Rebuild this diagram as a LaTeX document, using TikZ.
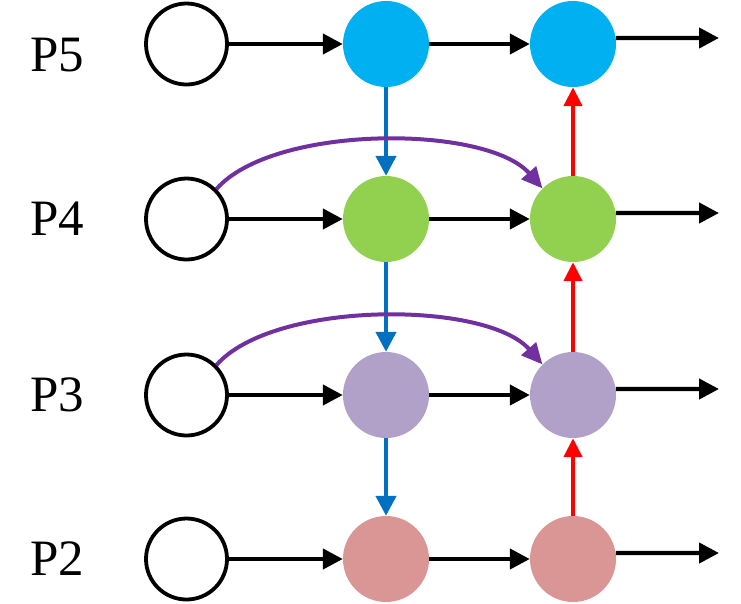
\documentclass[tikz,border=0pt]{standalone}
\usepackage{fontspec}
\setmainfont{Liberation Serif}
\usetikzlibrary{arrows.meta}
\definecolor{cblue}{HTML}{00B0F0}
\definecolor{cgreen}{HTML}{92D050}
\definecolor{clilac}{HTML}{B1A0C7}
\definecolor{cpink}{HTML}{D99694}
\definecolor{ablue}{HTML}{0070C0}
\definecolor{ared}{HTML}{FF0000}
\definecolor{apurple}{HTML}{7030A0}
\tikzset{
  emptynode/.style={circle,draw=black,line width=3.8pt,fill=white,minimum size=81pt,inner sep=0pt},
  fillnode/.style={circle,draw=none,minimum size=86pt,inner sep=0pt},
  flow/.style={line width=4.3pt,-{Triangle[length=20pt,width=20pt]}},
  down/.style={flow,draw=ablue,-{Triangle[length=20pt,width=20pt]}},
  up/.style={flow,draw=ared,-{Triangle[length=19pt,width=18pt]}},
  skip/.style={line width=4pt,draw=apurple,-{Triangle[length=21pt,width=19pt]}},
  lab/.style={anchor=base,font=\fontsize{51}{51}\selectfont,inner sep=0pt},
}
\begin{document}
\begin{tikzpicture}[x=1pt,y=-1pt]
\useasboundingbox (0,0) rectangle (741,603);
% labels
\node[lab] (l5) at (57,71) {P5};
\node[lab] (l4) at (57,235) {P4};
\node[lab] (l3) at (57,411) {P3};
\node[lab] (l2) at (57,575) {P2};
% column 1
\node[emptynode] (p5a) at (186.5,44) {};
\node[emptynode] (p4a) at (186.5,219) {};
\node[emptynode] (p3a) at (186.5,395) {};
\node[emptynode] (p2a) at (186.5,559) {};
% column 2
\node[fillnode,fill=cblue] (p5b) at (386,44) {};
\node[fillnode,fill=cgreen] (p4b) at (386,219) {};
\node[fillnode,fill=clilac] (p3b) at (386,395) {};
\node[fillnode,fill=cpink] (p2b) at (386,559) {};
% column 3
\node[fillnode,fill=cblue] (p5c) at (573,44) {};
\node[fillnode,fill=cgreen] (p4c) at (573,219) {};
\node[fillnode,fill=clilac] (p3c) at (573,395) {};
\node[fillnode,fill=cpink] (p2c) at (573,559) {};
% free ends
\coordinate (e5) at (719,38);
\coordinate (e4) at (719,213);
\coordinate (e3) at (719,389);
\coordinate (e2) at (719,553);
% horizontal arrows
\foreach \r in {5,4,3,2}{
  \draw[flow] (p\r a.east) -- (p\r b.west);
  \draw[flow] (p\r b.east) -- (p\r c.west);
  \draw[flow] (p\r c.8) -- (e\r);
}
% top-down (blue)
\draw[down] (p5b.south) -- (p4b.north);
\draw[down] (p4b.south) -- (p3b.north);
\draw[down] (p3b.south) -- (p2b.north);
% bottom-up (red)
\draw[up] (p2c.north) -- (p3c.south);
\draw[up] (p3c.north) -- (p4c.south);
\draw[up] (p4c.north) -- (p5c.south);
% skip connections (purple)
\draw[skip] (p4a.45) .. controls +(57,-65) and +(-56,-64) .. (p4c.135);
\draw[skip] (p3a.45) .. controls +(57,-65) and +(-56,-64) .. (p3c.135);
\end{tikzpicture}
\end{document}
